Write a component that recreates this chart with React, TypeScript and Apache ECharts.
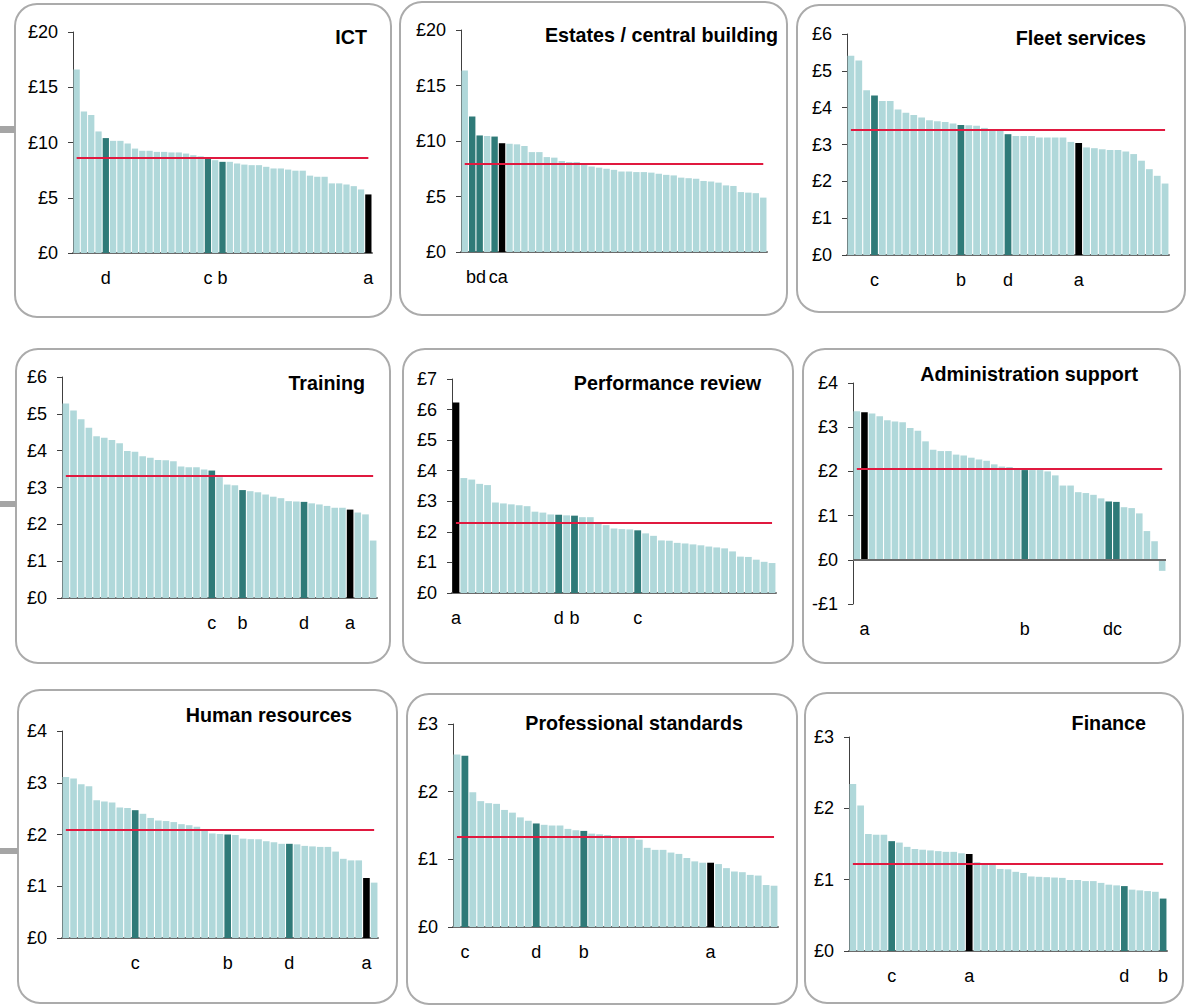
import React, { useEffect, useRef } from "react";
import * as echarts from "echarts";

// ---------- DATA ----------
const ictTitle = "ICT";
const ictValues = [16.6, 12.8, 12.5, 11.0, 10.4, 10.15, 10.15, 9.9, 9.45, 9.25, 9.25, 9.15, 9.15, 9.1, 9.1, 9.0, 8.85, 8.75, 8.6, 8.4, 8.25, 8.25, 8.1, 8.0, 7.95, 7.95, 7.8, 7.65, 7.65, 7.55, 7.45, 7.45, 7.0, 6.9, 6.9, 6.3, 6.3, 6.2, 6.05, 5.75, 5.3];
const ictAverage = 8.6;
const ictLetters = ["a", "b", "c", "d"];
const ictLetterIndex = [40, 20, 18, 4];

const estatesTitle = "Estates / central building";
const estatesValues = [16.35, 12.2, 10.5, 10.45, 10.4, 9.8, 9.75, 9.7, 9.55, 9.0, 9.0, 8.55, 8.5, 8.2, 8.1, 8.1, 7.85, 7.7, 7.6, 7.5, 7.4, 7.25, 7.25, 7.2, 7.2, 7.15, 7.05, 6.95, 6.9, 6.7, 6.65, 6.6, 6.4, 6.35, 6.25, 6.0, 5.95, 5.4, 5.35, 5.3, 4.9];
const estatesAverage = 7.95;
const estatesLetters = ["a", "b", "c", "d"];
const estatesLetterIndex = [5, 1, 4, 2];

const fleetTitle = "Fleet services";
const fleetValues = [5.41, 5.28, 4.47, 4.33, 4.18, 4.18, 3.95, 3.86, 3.8, 3.73, 3.66, 3.63, 3.61, 3.57, 3.53, 3.52, 3.51, 3.45, 3.42, 3.38, 3.28, 3.23, 3.23, 3.23, 3.19, 3.19, 3.19, 3.19, 3.07, 3.04, 2.92, 2.9, 2.87, 2.85, 2.85, 2.81, 2.74, 2.56, 2.33, 2.15, 1.94];
const fleetAverage = 3.4;
const fleetLetters = ["a", "b", "c", "d"];
const fleetLetterIndex = [29, 14, 3, 20];

const trainingTitle = "Training";
const trainingValues = [5.28, 5.09, 4.85, 4.62, 4.39, 4.35, 4.29, 4.2, 3.99, 3.97, 3.85, 3.81, 3.75, 3.74, 3.71, 3.57, 3.55, 3.55, 3.49, 3.46, 3.28, 3.08, 3.06, 2.93, 2.9, 2.87, 2.81, 2.75, 2.71, 2.63, 2.62, 2.61, 2.57, 2.54, 2.5, 2.45, 2.45, 2.4, 2.32, 2.27, 1.56];
const trainingAverage = 3.33;
const trainingLetters = ["a", "b", "c", "d"];
const trainingLetterIndex = [37, 23, 19, 31];

const perfTitle = "Performance review";
const perfValues = [6.23, 3.76, 3.71, 3.57, 3.53, 2.96, 2.93, 2.9, 2.87, 2.84, 2.66, 2.63, 2.57, 2.56, 2.54, 2.53, 2.48, 2.48, 2.32, 2.22, 2.11, 2.09, 2.08, 2.05, 1.95, 1.87, 1.72, 1.71, 1.64, 1.62, 1.59, 1.56, 1.52, 1.49, 1.46, 1.36, 1.19, 1.18, 1.09, 1.02, 0.98];
const perfAverage = 2.29;
const perfLetters = ["a", "b", "c", "d"];
const perfLetterIndex = [0, 15, 23, 13];

const adminTitle = "Administration support";
const adminValues = [3.36, 3.34, 3.31, 3.25, 3.16, 3.13, 3.11, 2.98, 2.92, 2.68, 2.49, 2.46, 2.46, 2.38, 2.36, 2.31, 2.27, 2.24, 2.16, 2.11, 2.1, 2.06, 2.03, 2.03, 2.03, 2.0, 1.91, 1.68, 1.68, 1.53, 1.51, 1.47, 1.39, 1.32, 1.31, 1.19, 1.17, 1.05, 0.65, 0.42, -0.25];
const adminAverage = 2.07;
const adminLetters = ["a", "b", "c", "d"];
const adminLetterIndex = [1, 22, 34, 33];

const hrTitle = "Human resources";
const hrValues = [3.11, 3.08, 2.97, 2.93, 2.66, 2.64, 2.62, 2.52, 2.51, 2.47, 2.4, 2.32, 2.27, 2.26, 2.24, 2.2, 2.18, 2.15, 2.1, 2.02, 2.01, 2.0, 1.99, 1.92, 1.91, 1.91, 1.87, 1.85, 1.82, 1.82, 1.81, 1.78, 1.77, 1.76, 1.76, 1.67, 1.53, 1.5, 1.5, 1.16, 1.07];
const hrAverage = 2.09;
const hrLetters = ["a", "b", "c", "d"];
const hrLetterIndex = [39, 21, 9, 29];

const profTitle = "Professional standards";
const profValues = [2.55, 2.53, 1.99, 1.86, 1.83, 1.82, 1.73, 1.69, 1.62, 1.57, 1.53, 1.51, 1.5, 1.5, 1.45, 1.43, 1.42, 1.38, 1.37, 1.36, 1.34, 1.33, 1.32, 1.29, 1.17, 1.14, 1.14, 1.1, 1.08, 1.02, 0.97, 0.95, 0.95, 0.93, 0.87, 0.82, 0.81, 0.77, 0.76, 0.62, 0.61];
const profAverage = 1.34;
const profLetters = ["a", "b", "c", "d"];
const profLetterIndex = [32, 16, 1, 10];

const financeTitle = "Finance";
const financeValues = [2.34, 2.04, 1.64, 1.63, 1.63, 1.54, 1.52, 1.46, 1.43, 1.42, 1.41, 1.4, 1.39, 1.39, 1.37, 1.36, 1.245, 1.23, 1.22, 1.15, 1.145, 1.11, 1.095, 1.045, 1.04, 1.035, 1.03, 1.025, 0.995, 0.995, 0.98, 0.98, 0.955, 0.93, 0.92, 0.91, 0.86, 0.85, 0.84, 0.83, 0.735];
const financeAverage = 1.23;
const financeLetters = ["a", "b", "c", "d"];
const financeLetterIndex = [15, 40, 5, 35];

// y-axis ranges (min, max, interval)
const ictAxis = [0, 20, 5];
const estatesAxis = [0, 20, 5];
const fleetAxis = [0, 6, 1];
const trainingAxis = [0, 6, 1];
const perfAxis = [0, 7, 1];
const adminAxis = [-1, 4, 1];
const hrAxis = [0, 4, 1];
const profAxis = [0, 3, 1];
const financeAxis = [0, 3, 1];

const panelData = [
  { title: ictTitle, values: ictValues, average: ictAverage, letters: ictLetters, idx: ictLetterIndex, axis: ictAxis },
  { title: estatesTitle, values: estatesValues, average: estatesAverage, letters: estatesLetters, idx: estatesLetterIndex, axis: estatesAxis },
  { title: fleetTitle, values: fleetValues, average: fleetAverage, letters: fleetLetters, idx: fleetLetterIndex, axis: fleetAxis },
  { title: trainingTitle, values: trainingValues, average: trainingAverage, letters: trainingLetters, idx: trainingLetterIndex, axis: trainingAxis },
  { title: perfTitle, values: perfValues, average: perfAverage, letters: perfLetters, idx: perfLetterIndex, axis: perfAxis },
  { title: adminTitle, values: adminValues, average: adminAverage, letters: adminLetters, idx: adminLetterIndex, axis: adminAxis },
  { title: hrTitle, values: hrValues, average: hrAverage, letters: hrLetters, idx: hrLetterIndex, axis: hrAxis },
  { title: profTitle, values: profValues, average: profAverage, letters: profLetters, idx: profLetterIndex, axis: profAxis },
  { title: financeTitle, values: financeValues, average: financeAverage, letters: financeLetters, idx: financeLetterIndex, axis: financeAxis },
];

// ---------- LAYOUT ----------
const W = 1190;
const H = 1006;
// plot area: left, top, right, bottom (pixel coords)
const plotBoxes = [
  [73, 32, 372, 253],
  [461, 30, 767, 252],
  [847, 34, 1169, 255],
  [62, 377, 377, 598],
  [452, 379, 776, 593],
  [853, 383, 1166, 604],
  [62, 731, 378, 938],
  [453, 724, 778, 927],
  [849, 737, 1167, 951],
];
// title right edge, center y
const titlePos = [
  [367, 37],
  [778, 35],
  [1146, 38],
  [365, 383],
  [761, 383],
  [1138, 374],
  [352, 715],
  [743, 723],
  [1146, 723],
];
// rounded frames x, y, w, h
const frames = [
  [15, 4, 376, 313],
  [400, 2, 387, 313],
  [797, 5, 388, 307],
  [16, 349, 374, 314],
  [403, 349, 390, 314],
  [803, 349, 377, 314],
  [18, 690, 379, 313],
  [407, 694, 390, 310],
  [805, 693, 378, 310],
];
const connectors = [
  [0, 126, 15, 7],
  [0, 501, 16, 6],
  [0, 848, 18, 6],
];

const LIGHT = "#b0d8da";
const DARK = "#2f7a78";
const BLACK = "#000000";
const RED = "#e0193f";
const FONT = "'Liberation Sans', Arial, Helvetica, sans-serif";

function buildOption() {
  const grid: any[] = [];
  const xAxis: any[] = [];
  const yAxis: any[] = [];
  const series: any[] = [];
  const title: any[] = [];

  panelData.forEach((p, i) => {
    const [l, t, r, b] = plotBoxes[i];
    const pitch = (r - l) / p.values.length;
    grid.push({ left: l, top: t, width: r - l, height: b - t, containLabel: false });
    const letterAt: string[] = p.values.map(() => "");
    p.letters.forEach((ch, k) => (letterAt[p.idx[k]] = ch));
    // letters on neighbouring bars are written as one label centred between them
    const paired: boolean[] = p.values.map(() => false);
    for (let j = 0; j < letterAt.length - 1; j++) {
      if (letterAt[j] && letterAt[j + 1]) {
        letterAt[j] = letterAt[j] + letterAt[j + 1];
        letterAt[j + 1] = "";
        paired[j] = true;
        j++;
      }
    }
    const isAdmin = p.axis[0] < 0;
    xAxis.push({
      type: "category",
      gridIndex: i,
      data: p.values.map((_, j) => String(j)),
      axisLine: { show: !isAdmin, onZero: false, lineStyle: { color: "#6b6b6b", width: 2 } },
      axisTick: { show: false },
      axisLabel: {
        interval: 0,
        margin: 16,
        fontSize: 18,
        fontFamily: FONT,
        color: "#000",
        formatter: (_v: string, j: number) => {
          const s = letterAt[j] || "";
          if (!s) return "";
          return paired[j] ? "{p|" + s + "}" : s;
        },
        rich: {
          p: { fontSize: 18, fontFamily: FONT, color: "#000", padding: [0, 0, 0, pitch] },
        },
      },
      splitLine: { show: false },
    });
    yAxis.push({
      type: "value",
      gridIndex: i,
      min: p.axis[0],
      max: p.axis[1],
      interval: p.axis[2],
      axisLine: { show: true, onZero: false, lineStyle: { color: "#404040", width: 1 } },
      axisTick: { show: true, inside: false, length: 5, lineStyle: { color: "#404040" } },
      splitLine: { show: false },
      axisLabel: {
        margin: 15,
        fontSize: 18,
        fontFamily: FONT,
        color: "#000",
        formatter: (v: number) => (v < 0 ? "-£" + Math.abs(v) : "£" + v),
      },
    });
    const markData: any[] = [
      [
        { coord: [0, p.average], lineStyle: { color: RED, width: 2, type: "solid" } },
        { coord: [p.values.length - 1, p.average] },
      ],
    ];
    if (isAdmin) {
      markData.unshift({ yAxis: 0, lineStyle: { color: "#6b6b6b", width: 2, type: "solid" } });
    }
    series.push({
      type: "bar",
      xAxisIndex: i,
      yAxisIndex: i,
      barCategoryGap: "14%",
      data: p.values.map((v, j) => {
        let c = LIGHT;
        p.idx.forEach((ix, k) => {
          if (ix === j) c = p.letters[k] === "a" ? BLACK : DARK;
        });
        return { value: v, itemStyle: { color: c } };
      }),
      markLine: {
        silent: true,
        symbol: "none",
        label: { show: false },
        animation: false,
        data: markData,
      },
    });
    const [tr, tc] = titlePos[i];
    title.push({
      text: p.title,
      right: W - tr,
      top: tc - 10,
      padding: 0,
      textStyle: { fontSize: 19.7, fontWeight: "bold", fontFamily: FONT, color: "#000" },
    });
  });

  const graphic: any[] = [];
  frames.forEach(([x, y, w, h]) => {
    graphic.push({
      type: "rect",
      shape: { x, y, width: w, height: h, r: 22 },
      style: { fill: "none", stroke: "#ababab", lineWidth: 2 },
      silent: true,
    });
  });
  connectors.forEach(([x, y, w, h]) => {
    graphic.push({
      type: "rect",
      shape: { x, y, width: w, height: h },
      style: { fill: "#a5a5a5" },
      silent: true,
    });
  });

  return {
    animation: false,
    backgroundColor: "#ffffff",
    textStyle: { fontFamily: FONT },
    title,
    grid,
    xAxis,
    yAxis,
    series,
    graphic,
  };
}

export default function App() {
  const ref = useRef<HTMLDivElement>(null);
  useEffect(() => {
    if (!ref.current) return;
    const chart = echarts.init(ref.current, undefined, { renderer: "svg", width: W, height: H });
    chart.setOption(buildOption() as any);
    return () => chart.dispose();
  }, []);
  return (
    <div
      ref={ref}
      style={{ position: "absolute", left: 0, top: 0, width: W, height: H, background: "#fff" }}
    />
  );
}
